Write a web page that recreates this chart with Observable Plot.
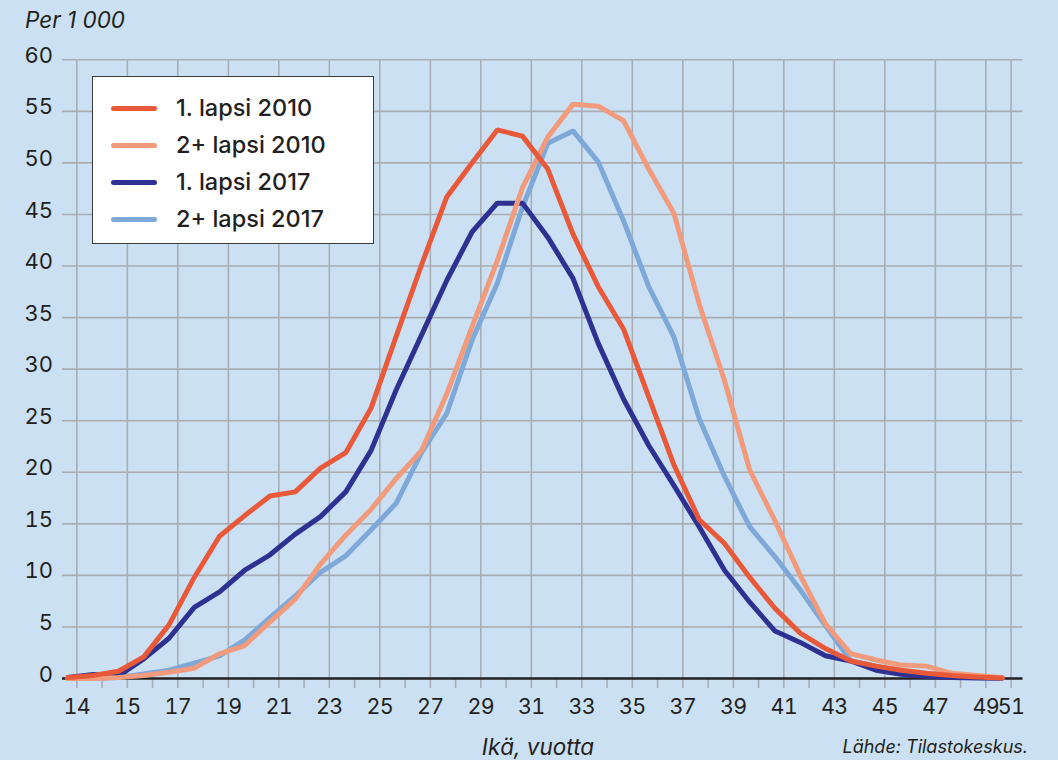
<!DOCTYPE html>
<html>
<head>
<meta charset="utf-8">
<script src="https://cdn.jsdelivr.net/npm/d3@7"></script>
<script src="https://cdn.jsdelivr.net/npm/@observablehq/plot@0.6"></script>
<style>
  html, body { margin: 0; padding: 0; background: #cbe1f3; }
  body { width: 1058px; height: 760px; overflow: hidden; position: relative;
         font-family: Inter, "Noto Sans", sans-serif; color: #231f20; }
  #title { position: absolute; left: 25px; top: 6px; font-size: 22.5px; font-style: italic; white-space: nowrap; }
  #chart { position: absolute; left: 0; top: 40px; }
  #legend { position: absolute; left: 92px; top: 76px; width: 280px; height: 166px;
            background: #fff; border: 1.5px solid #3a3a3a; }
  .row { position: absolute; left: 0; width: 100%; height: 0; }
  .sw { position: absolute; left: 18px; top: -2.5px; width: 46px; height: 5px; border-radius: 3px; }
  .lt { position: absolute; left: 83px; top: -16px; line-height: 32px; font-size: 23.5px; font-weight: 500; white-space: nowrap; }
  #xlabel { position: absolute; left: 538px; top: 733px; transform: translateX(-50%); font-size: 22.5px; font-style: italic; white-space: nowrap; }
  #source { position: absolute; right: 30px; top: 736px; font-size: 18px; font-style: italic; white-space: nowrap; }
  #chart svg g[aria-label="y-axis tick label"] text { font-size: 22px; }
  #chart svg g[aria-label="x-axis tick label"] text { letter-spacing: -0.6px; }
</style>
</head>
<body>
<div id="title">Per 1 000</div>
<div id="chart"></div>
<div id="legend"></div>
<div id="xlabel">Ikä, vuotta</div>
<div id="source">Lähde: Tilastokeskus.</div>
<script>
// ---- Data ----
const ages = [13,14,15,16,17,18,19,20,21,22,23,24,25,26,27,28,29,30,31,32,33,34,35,36,37,38,39,40,41,42,43,44,45,46,47,48,49,50];
const seriesNames = ["1. lapsi 2010", "2+ lapsi 2010", "1. lapsi 2017", "2+ lapsi 2017"];
const seriesColors = ["#e8593a", "#f29b7c", "#2e3191", "#7ea8d8"];

const lapsi1_2010 = [0.1,0.3,0.7,2.1,5.2,9.8,13.8,15.8,17.7,18.1,20.4,21.9,26.2,33.2,40.1,46.7,50.0,53.2,52.6,49.4,43.1,38.0,33.9,27.3,20.7,15.4,13.1,9.8,6.8,4.4,2.9,1.7,1.2,0.8,0.5,0.3,0.15,0.05];
const lapsi2_2010 = [0,0,0.1,0.3,0.6,1.0,2.4,3.2,5.5,7.7,11.1,13.9,16.4,19.4,22.1,27.6,34.1,40.5,47.6,52.5,55.7,55.5,54.1,49.4,45.1,36.3,28.9,20.2,15.3,10.0,5.3,2.4,1.8,1.3,1.2,0.5,0.3,0.07];
const lapsi1_2017 = [0.1,0.4,0.25,1.9,3.9,6.9,8.4,10.5,12.0,14.0,15.7,18.1,22.1,28.0,33.3,38.6,43.3,46.1,46.1,42.8,38.8,32.5,27.1,22.6,18.7,14.7,10.5,7.4,4.6,3.5,2.2,1.7,0.8,0.4,0.2,0.1,0.05,0.02];
const lapsi2_2017 = [0,0,0.1,0.45,0.8,1.5,2.2,3.75,5.9,8.0,10.3,11.9,14.4,17.0,21.9,25.7,32.8,38.3,45.7,51.9,53.1,50.1,44.4,38.0,33.1,25.2,19.6,14.7,11.8,8.6,5.1,1.7,1.2,0.6,0.4,0.2,0.1,0.05];
const seriesValues = [lapsi1_2010, lapsi2_2010, lapsi1_2017, lapsi2_2017];

// x tick labels as printed in the source, and the age slot where each sits
const xTickLabels = ["14","15","17","19","21","23","25","27","29","31","33","35","37","39","41","43","45","47","49","51"];
const xTickSlots  = [13,15,17,19,21,23,25,27,29,31,33,35,37,39,41,43,45,47,49,50];
const xMinorSlots = [14,16,18,20,22,24,26,28,30,32,34,36,38,40,42,44,46,48];
const yTicks = [0,5,10,15,20,25,30,35,40,45,50,55,60];

// ---- Build table ----
const rows = seriesNames.flatMap((s, i) => ages.map((a, j) => ({series: s, age: a, value: seriesValues[i][j]})));

const labelShift = 0.35; // labels in the source sit slightly right of the data slots
const majorPos = xTickSlots.map(a => a + labelShift);
const minorPos = xMinorSlots.map(a => a + labelShift);
const allPos = [...majorPos, ...minorPos];
const fmtX = d => { const i = majorPos.indexOf(d); return i >= 0 ? xTickLabels[i] : ""; };

const gridColor = "#a9adb3";
const drawOrder = [3, 2, 1, 0];

const chart = Plot.plot({
  width: 1058,
  height: 680,
  marginLeft: 62,
  marginRight: 35.5,
  marginTop: 19.3,
  marginBottom: 42,
  style: {background: "transparent", fontFamily: "Inter, 'Noto Sans', sans-serif", fontSize: "21.5px", color: "#231f20", overflow: "visible"},
  x: {domain: [12.782, 50.822]},
  y: {domain: [0, 60]},
  color: {domain: seriesNames, range: seriesColors},
  marks: [
    Plot.gridY(yTicks.filter(v => v > 0), {stroke: gridColor, strokeOpacity: 1, strokeWidth: 1.6}),
    Plot.gridX(majorPos, {stroke: gridColor, strokeOpacity: 1, strokeWidth: 1.6}),
    Plot.axisY(yTicks, {tickSize: 0, tickPadding: 9.5, dy: -4, label: null, fill: "#231f20"}),
    Plot.axisX(allPos, {tickSize: 10, tickPadding: 10, tickFormat: fmtX, stroke: gridColor, strokeWidth: 1.6, label: null, fill: "#231f20"}),
    Plot.ruleY([0], {stroke: "#231f20", strokeWidth: 2.6}),
    ...drawOrder.map(i => Plot.line(rows.filter(r => r.series === seriesNames[i]), {
      x: "age", y: "value", stroke: "series", strokeWidth: 5, strokeLinecap: "round", strokeLinejoin: "miter"
    }))
  ]
});
document.getElementById("chart").appendChild(chart);

// ---- Legend ----
const legend = document.getElementById("legend");
seriesNames.forEach((s, i) => {
  const row = document.createElement("div");
  row.className = "row";
  row.style.top = (31 + i * 37) + "px";
  const sw = document.createElement("div");
  sw.className = "sw";
  sw.style.background = seriesColors[i];
  const t = document.createElement("div");
  t.className = "lt";
  t.textContent = s;
  row.appendChild(sw);
  row.appendChild(t);
  legend.appendChild(row);
});
</script>
</body>
</html>
